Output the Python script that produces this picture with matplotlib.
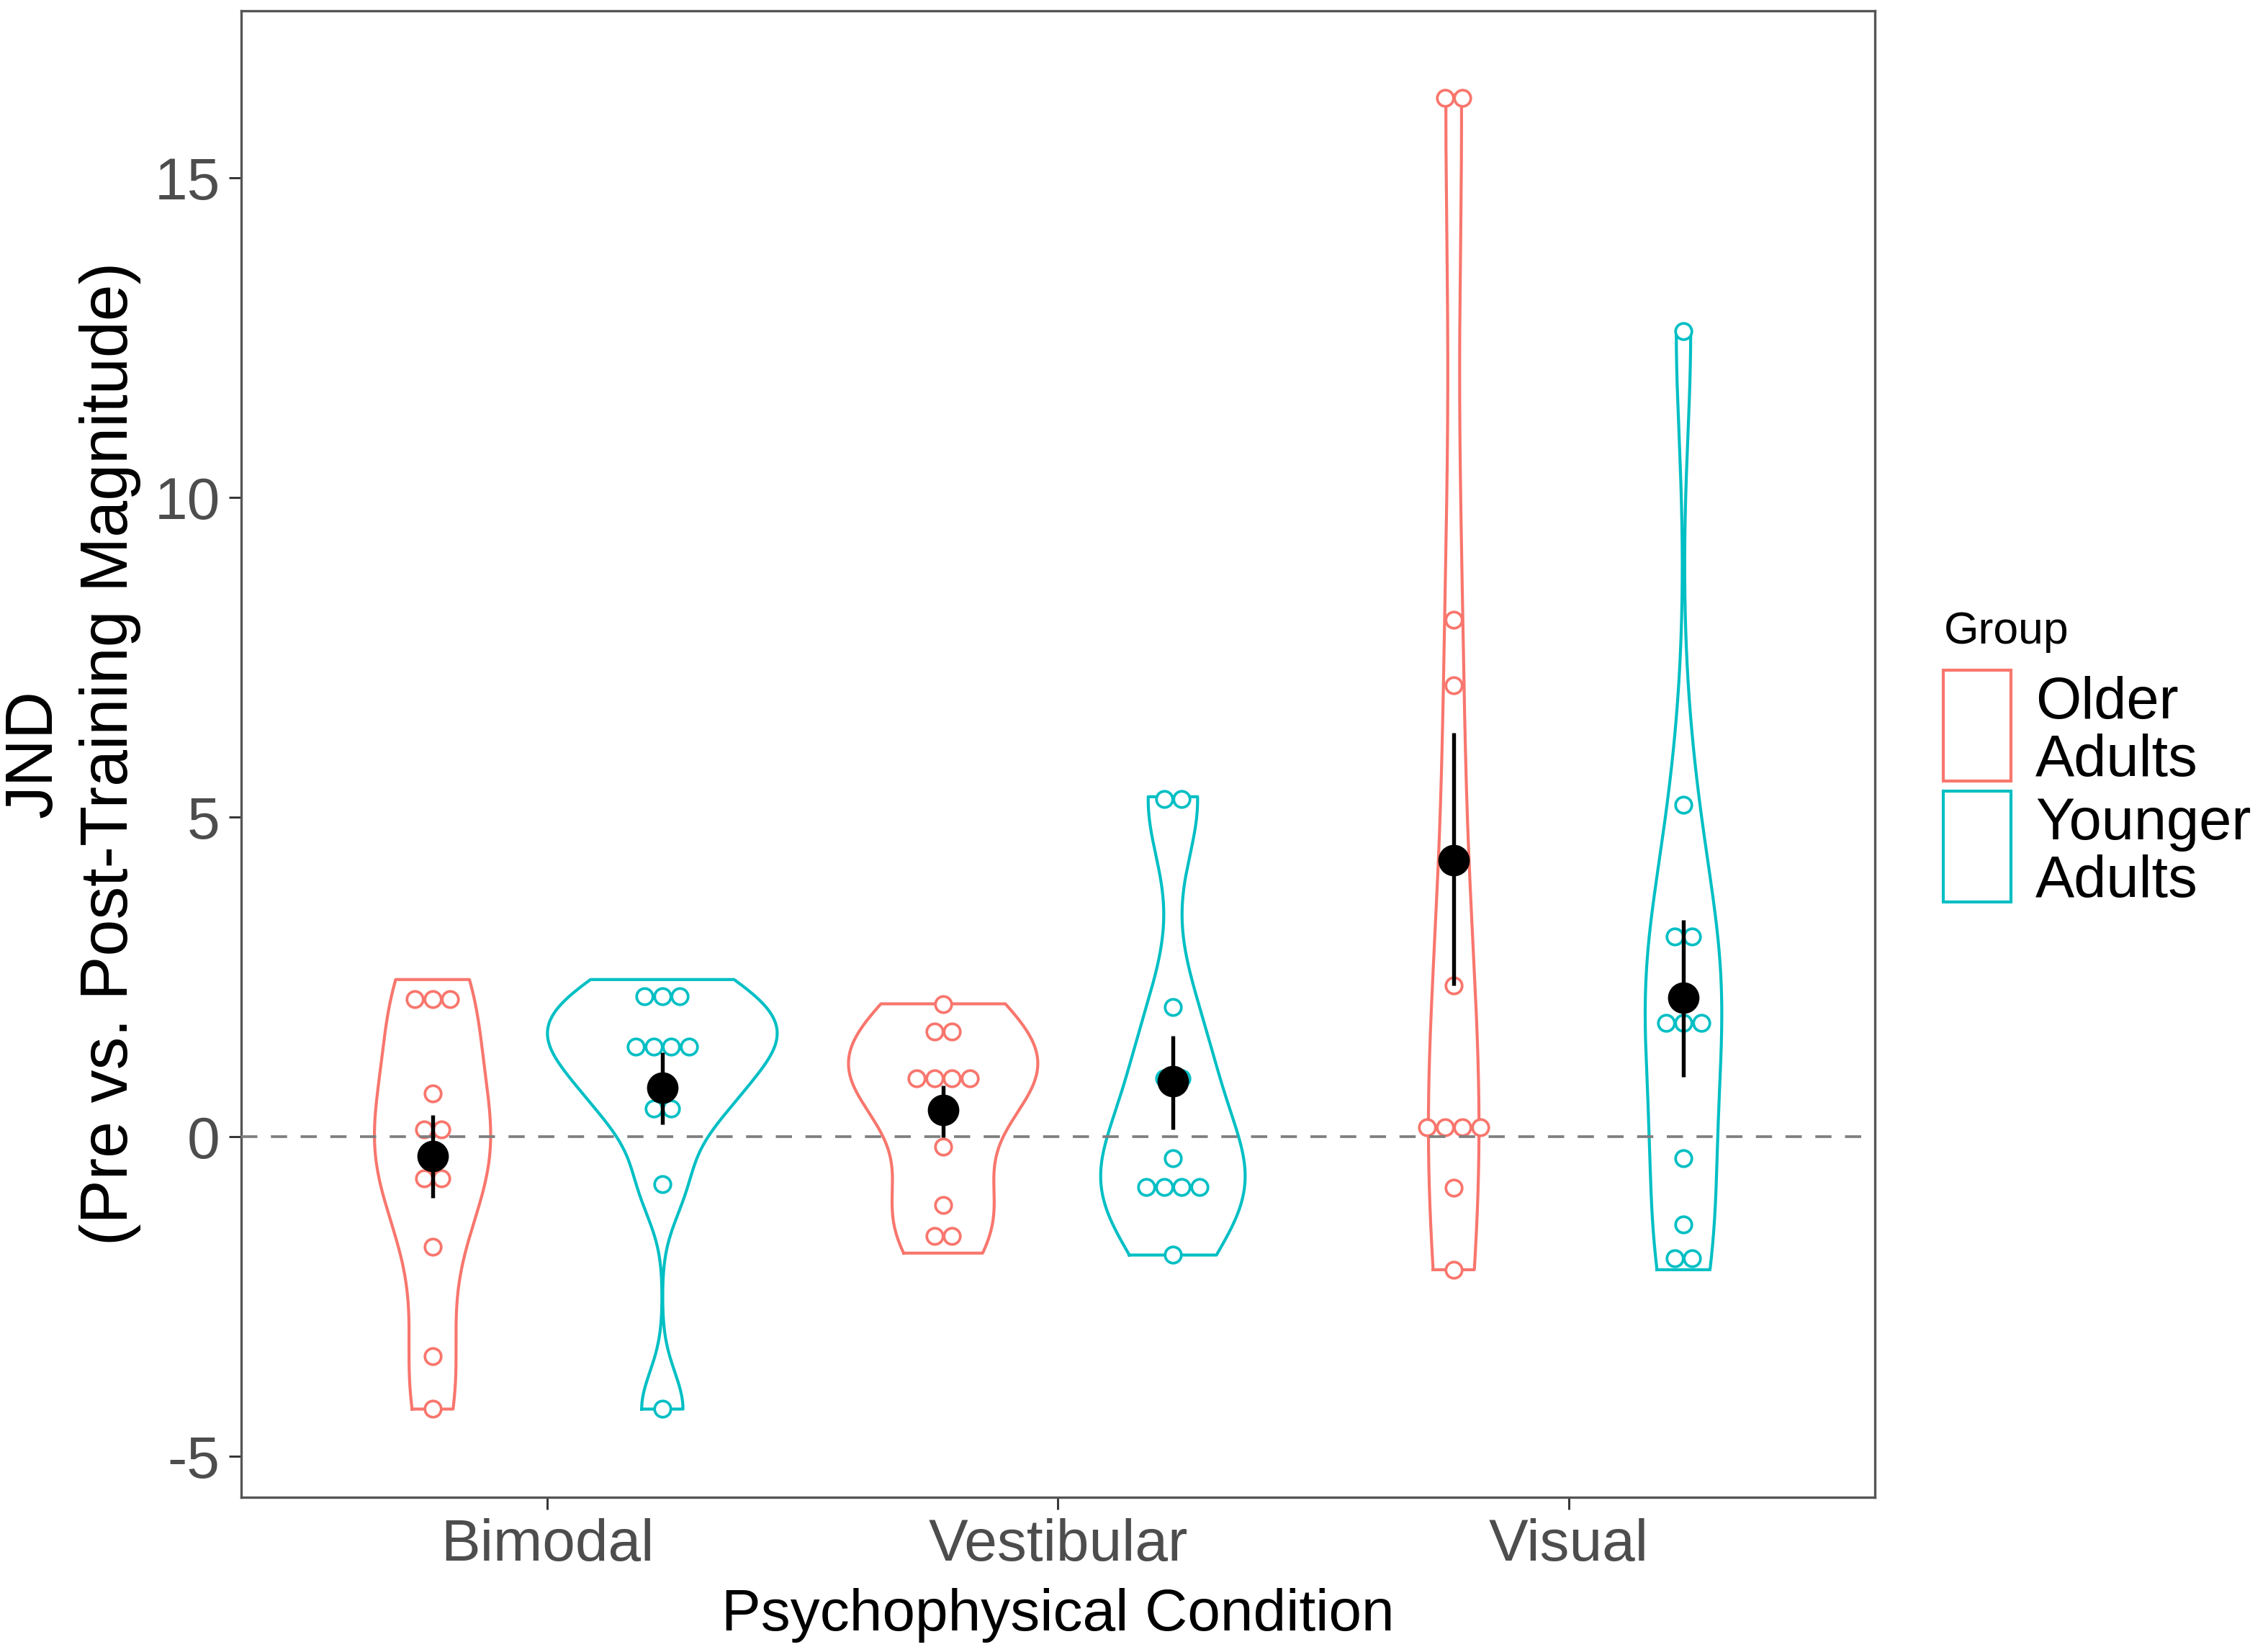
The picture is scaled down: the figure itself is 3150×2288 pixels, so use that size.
import numpy as np
import matplotlib.pyplot as plt
from matplotlib.patches import Patch, Rectangle
from matplotlib.legend_handler import HandlerPatch

plt.rcParams['font.family'] = ['Liberation Sans', 'DejaVu Sans']
plt.rcParams['axes.unicode_minus'] = False

conditions = ['Bimodal', 'Vestibular', 'Visual']
groups = ['Older\nAdults', 'Younger\nAdults']
group_colors = ['#F8766D', '#00BFC4']

# JND change (pre vs. post training), one value per participant
older_bimodal = [-4.26, -3.43, -1.72, -0.75, -0.55, -0.03, 0.27, 0.68, 1.84, 2.15, 2.46]
younger_bimodal = [-4.26, -0.74, 0.34, 0.54, 1.10, 1.30, 1.52, 1.72, 1.94, 2.20, 2.46]
older_vestibular = [-1.82, -1.28, -1.07, -0.15, 0.62, 0.82, 1.02, 1.22, 1.36, 1.94, 2.08]
younger_vestibular = [-1.85, -1.05, -0.90, -0.68, -0.53, -0.34, 0.80, 1.04, 2.03, 5.24, 5.32]
older_visual = [-2.08, -0.80, 0.00, 0.10, 0.20, 0.30, 2.37, 7.06, 8.09, 16.20, 16.30]
younger_visual = [-2.08, -1.72, -1.37, -0.34, 1.55, 1.78, 2.01, 3.00, 3.26, 5.19, 12.61]

# group means with error bars, as drawn
mean_older = [-0.30, 0.42, 4.33]
low_older = [-0.96, -0.01, 2.37]
high_older = [0.34, 0.80, 6.32]
mean_younger = [0.77, 0.87, 2.18]
low_younger = [0.19, 0.12, 0.94]
high_younger = [1.32, 1.58, 3.39]

data = [[older_bimodal, older_vestibular, older_visual],
        [younger_bimodal, younger_vestibular, younger_visual]]
means = [mean_older, mean_younger]
lows = [low_older, low_younger]
highs = [high_older, high_younger]


def nrd0(x):
    '''Silverman rule of thumb, as R's bw.nrd0.'''
    sd = np.std(x, ddof=1)
    q75, q25 = np.percentile(x, [75, 25])
    lo = min(sd, (q75 - q25) / 1.34)
    if lo == 0:
        lo = sd
    return 0.9 * lo * len(x) ** -0.2


def density(x, n=512):
    x = np.asarray(x)
    bw = nrd0(x)
    grid = np.linspace(x.min(), x.max(), n)
    z = (grid[:, None] - x[None, :]) / bw
    d = np.exp(-0.5 * z ** 2).sum(axis=1) / (len(x) * bw * np.sqrt(2 * np.pi))
    return grid, d


def dot_bins(x, width):
    '''Dot-density binning: returns bin centres and counts.'''
    x = np.sort(np.asarray(x))
    bins = []
    binend = -np.inf
    for v in x:
        if v >= binend:
            bins.append([v])
            binend = v + width
        else:
            bins[-1].append(v)
    return [((min(b) + max(b)) / 2, len(b)) for b in bins]


def key_rect(legend, orig_handle, xdescent, ydescent, width, height, fontsize):
    # legend key sits a little higher than matplotlib's default
    return Rectangle((-xdescent, -ydescent + 0.17 * fontsize), width, height)


fig = plt.figure(figsize=(10.5, 2288 / 300), dpi=300)
ax = fig.add_axes([0.1063, 0.0909, 0.7204, 0.9027])

all_vals = np.concatenate([np.ravel(v) for g in data for v in g])
binwidth = (all_vals.max() - all_vals.min()) / 30
dodge = 0.225
vwidth = 0.45
dot_step = 0.0345

dens = [[density(v) for v in g] for g in data]
dmax = max(d.max() for g in dens for _, d in g)

for gi, color in enumerate(group_colors):
    off = -dodge if gi == 0 else dodge
    for ci in range(len(conditions)):
        xc = ci + 1 + off
        grid, d = dens[gi][ci]
        half = d / dmax * vwidth / 2
        xs = np.concatenate([xc - half, (xc + half)[::-1], [xc - half[0]]])
        ys = np.concatenate([grid, grid[::-1], [grid[0]]])
        ax.plot(xs, ys, color=color, lw=1.0, zorder=2)

        for centre, count in dot_bins(data[gi][ci], binwidth):
            px = xc + (np.arange(count) - (count - 1) / 2) * dot_step
            ax.plot(px, np.full(count, centre), 'o', ms=5.4, mfc='white',
                    mec=color, mew=0.9, zorder=3)

ax.axhline(0, color='#7f7f7f', lw=0.9, ls=(0, (6, 5)), zorder=4)

for gi in range(2):
    off = -dodge if gi == 0 else dodge
    xs = np.arange(1, len(conditions) + 1) + off
    ax.vlines(xs, lows[gi], highs[gi], color='black', lw=1.3, zorder=5)
    ax.plot(xs, means[gi], 'o', color='black', ms=9.5, zorder=6)

ax.set_xlim(0.4, 3.6)
ax.set_ylim(-5.64, 17.62)
ax.set_xticks([1, 2, 3])
ax.set_xticklabels(conditions)
ax.set_yticks([-5, 0, 5, 10, 15])
ax.set_yticklabels(['-5', '0', '5', '10', '15'])
ax.tick_params(labelsize=19.7, labelcolor='#4d4d4d', color='#333333',
               length=4, width=0.7, pad=3)
for s in ax.spines.values():
    s.set_color('#555555')
    s.set_linewidth(0.8)

ax.set_xlabel('Psychophysical Condition', fontsize=19.7, labelpad=5)
ax.set_ylabel('JND\n(Pre vs. Post-Training Magnitude)', fontsize=22,
              linespacing=1.3)
ax.yaxis.set_label_coords(-0.061, 0.5)

handles = [Patch(facecolor='white', edgecolor=c, lw=1.0) for c in group_colors]
leg = ax.legend(handles, groups, title='Group', loc='center left',
                bbox_to_anchor=(1.042, 0.495), frameon=False, fontsize=19.5,
                title_fontsize=15, handlelength=1.15, handleheight=2.55,
                labelspacing=0.1, handletextpad=0.42, alignment='left',
                borderaxespad=0, borderpad=0,
                handler_map={Patch: HandlerPatch(patch_func=key_rect)})
for t in leg.get_texts():
    t.set_linespacing(1.06)
# more room between the legend title and the keys
leg._legend_box.sep = 0.1 * 19.5 + 5.8

plt.savefig('out.png', dpi=300)
